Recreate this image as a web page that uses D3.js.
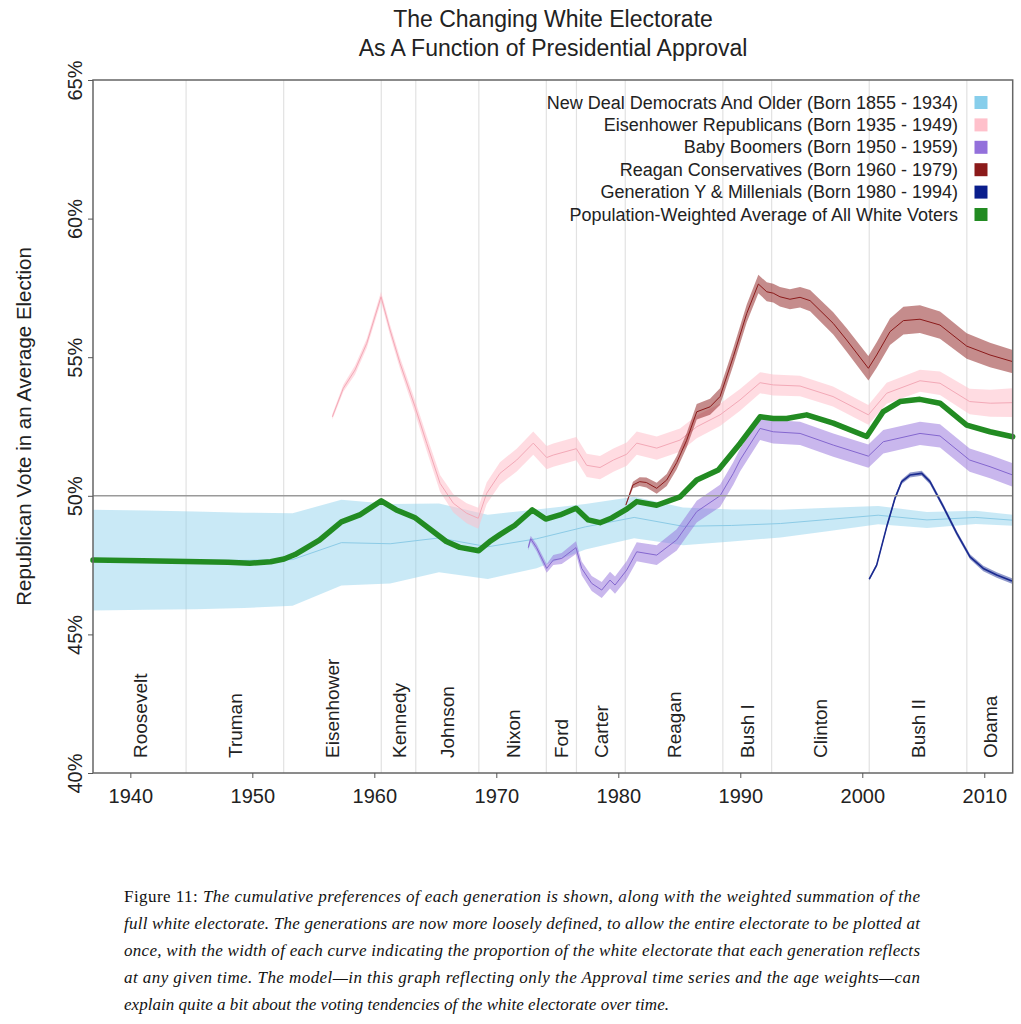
<!DOCTYPE html>
<html><head><meta charset="utf-8">
<script src="https://cdn.jsdelivr.net/npm/d3@7"></script>
<style>body{margin:0;background:#fff}svg{display:block}</style>
</head><body><svg id="c" width="1021" height="1024"></svg>
<script>
const titleLines = ["The Changing White Electorate", "As A Function of Presidential Approval"];
const yAxisTitle = "Republican Vote in an Average Election";
const yTicks = [40, 45, 50, 55, 60, 65];
const xTicks = [1940, 1950, 1960, 1970, 1980, 1990, 2000, 2010];
const termBoundaries = [1936.94, 1944.57, 1952.57, 1960.57, 1963.4, 1968.57, 1974.1, 1976.57, 1980.57, 1988.57, 1992.57, 2000.57, 2008.57, 2012.33];
const presidents = ["Roosevelt", "Truman", "Eisenhower", "Kennedy", "Johnson", "Nixon", "Ford", "Carter", "Reagan", "Bush I", "Clinton", "Bush II", "Obama"];
const legendLabels = [
  "New Deal Democrats And Older (Born 1855 - 1934)",
  "Eisenhower Republicans (Born 1935 - 1949)",
  "Baby Boomers (Born 1950 - 1959)",
  "Reagan Conservatives (Born 1960 - 1979)",
  "Generation Y & Millenials (Born 1980 - 1994)",
  "Population-Weighted Average of All White Voters"
];
const legendColors = ["#87CEEB", "#FFC0CB", "#9370DB", "#8B1A1A", "#0A1E8C", "#228B22"];

// [year, vote %, half-width of band]
const newDeal = [
  [1936.94, 47.68, 1.82], [1941.3, 47.68, 1.79], [1945.3, 47.67, 1.76], [1949.3, 47.67, 1.72],
  [1953.3, 47.70, 1.67], [1957.3, 48.31, 1.55], [1961.3, 48.27, 1.43], [1965.3, 48.48, 1.24],
  [1969.3, 48.16, 1.16], [1973.3, 48.45, 1.06], [1977.3, 48.88, 0.82], [1981.3, 49.22, 0.75],
  [1985.3, 48.90, 0.68], [1989.3, 48.93, 0.58], [1993.3, 49.00, 0.50], [1997.3, 49.15, 0.42],
  [2001.3, 49.30, 0.33], [2005.3, 49.13, 0.29], [2009.3, 49.22, 0.24], [2012.33, 49.12, 0.20]
];
const eisenhowerRep = [
  [1956.56, 52.85, 0.10], [1957.46, 53.88, 0.13], [1958.42, 54.54, 0.16], [1959.38, 55.50, 0.17],
  [1960.55, 57.18, 0.18], [1961.29, 55.98, 0.19], [1962.11, 54.78, 0.21], [1963.34, 53.21, 0.24],
  [1964.30, 51.89, 0.27], [1965.39, 50.45, 0.30], [1966.48, 49.73, 0.33], [1967.57, 49.37, 0.36],
  [1968.52, 49.19, 0.38], [1969.21, 50.09, 0.39], [1970.30, 50.81, 0.40], [1971.67, 51.29, 0.41],
  [1973.03, 51.90, 0.42], [1974.13, 51.38, 0.42], [1974.67, 51.47, 0.42], [1976.56, 51.70, 0.42],
  [1977.41, 51.10, 0.42], [1978.50, 51.02, 0.42], [1979.60, 51.29, 0.42], [1980.69, 51.50, 0.42],
  [1981.51, 51.90, 0.42], [1983.15, 51.72, 0.42], [1985.06, 52.01, 0.42], [1986.43, 52.49, 0.41],
  [1988.34, 52.92, 0.40], [1989.98, 53.46, 0.39], [1991.62, 54.08, 0.38], [1992.70, 54.00, 0.38],
  [1994.90, 53.96, 0.37], [1997.60, 53.58, 0.36], [2000.50, 52.92, 0.36], [2002.00, 53.70, 0.38],
  [2004.73, 54.15, 0.40], [2006.37, 54.06, 0.42], [2008.80, 53.40, 0.46], [2010.50, 53.34, 0.49],
  [2012.33, 53.36, 0.52]
];
const babyBoomers = [
  [1972.62, 48.13, 0.10], [1972.82, 48.45, 0.11], [1973.30, 48.13, 0.13], [1974.13, 47.38, 0.16],
  [1974.67, 47.68, 0.18], [1975.36, 47.74, 0.20], [1976.53, 48.13, 0.23], [1977.00, 47.38, 0.25],
  [1977.82, 46.84, 0.27], [1978.64, 46.60, 0.29], [1979.32, 46.96, 0.30], [1979.73, 46.78, 0.31],
  [1980.69, 47.32, 0.33], [1981.51, 47.98, 0.34], [1983.15, 47.86, 0.36], [1984.79, 48.41, 0.38],
  [1986.43, 49.43, 0.39], [1988.34, 50.00, 0.40], [1989.43, 50.81, 0.41], [1989.98, 51.29, 0.41],
  [1991.62, 52.43, 0.42], [1992.70, 52.31, 0.42], [1994.90, 52.25, 0.42], [1997.62, 51.83, 0.42],
  [2000.50, 51.43, 0.42], [2001.72, 51.95, 0.42], [2004.73, 52.25, 0.42], [2006.37, 52.16, 0.42],
  [2008.80, 51.29, 0.42], [2010.47, 51.05, 0.42], [2012.33, 50.75, 0.42]
];
const reaganCons = [
  [1980.62, 49.67, 0.04], [1981.20, 50.39, 0.12], [1981.75, 50.51, 0.16], [1982.30, 50.48, 0.18],
  [1983.15, 50.27, 0.20], [1983.97, 50.57, 0.22], [1984.79, 51.20, 0.24], [1985.60, 52.00, 0.26],
  [1986.43, 53.03, 0.28], [1987.52, 53.21, 0.29], [1988.34, 53.58, 0.30], [1989.43, 55.02, 0.31],
  [1990.53, 56.58, 0.32], [1991.48, 57.64, 0.33], [1992.17, 57.36, 0.34], [1992.70, 57.31, 0.34],
  [1993.25, 57.18, 0.35], [1994.07, 57.09, 0.36], [1994.90, 57.16, 0.37], [1995.72, 57.04, 0.38],
  [1997.62, 56.22, 0.40], [1998.72, 55.62, 0.42], [2000.50, 54.60, 0.44], [2001.18, 55.08, 0.46],
  [2002.27, 55.92, 0.48], [2003.37, 56.32, 0.50], [2004.73, 56.37, 0.50], [2006.37, 56.16, 0.49],
  [2008.56, 55.40, 0.46], [2010.47, 55.08, 0.44], [2012.33, 54.84, 0.42]
];
const genY = [
  [2000.57, 46.99, 0.05], [2001.18, 47.50, 0.06], [2002.00, 48.88, 0.07], [2002.68, 49.91, 0.08],
  [2003.23, 50.51, 0.08], [2003.91, 50.75, 0.09], [2004.87, 50.81, 0.09], [2005.55, 50.51, 0.09],
  [2006.64, 49.61, 0.09], [2007.74, 48.65, 0.09], [2008.83, 47.80, 0.09], [2009.92, 47.38, 0.10],
  [2011.02, 47.14, 0.10], [2012.27, 46.93, 0.10]
];
// [year, vote %]
const weightedAverage = [
  [1936.94, 47.68], [1941.0, 47.66], [1944.6, 47.63], [1948.0, 47.60], [1949.8, 47.57], [1951.5, 47.62],
  [1952.6, 47.72], [1953.5, 47.88], [1955.5, 48.40], [1957.3, 49.06], [1958.8, 49.31], [1960.57, 49.82],
  [1961.8, 49.49], [1963.3, 49.22], [1965.9, 48.35], [1967.0, 48.14], [1968.56, 48.02], [1969.46, 48.35],
  [1970.3, 48.60], [1971.5, 48.93], [1972.95, 49.49], [1974.05, 49.16], [1975.22, 49.31], [1976.53, 49.55],
  [1977.54, 49.13], [1978.5, 49.03], [1979.46, 49.20], [1980.69, 49.52], [1981.51, 49.79], [1983.15, 49.66],
  [1985.06, 49.96], [1986.43, 50.57], [1988.2, 50.93], [1989.98, 51.89], [1991.62, 52.85], [1992.7, 52.79],
  [1993.8, 52.79], [1995.44, 52.92], [1997.62, 52.62], [2000.36, 52.14], [2001.72, 53.04], [2003.09, 53.40],
  [2004.73, 53.48], [2006.37, 53.34], [2008.56, 52.55], [2010.47, 52.31], [2012.33, 52.13]
];
const captionLead = "Figure 11: ";
const captionLines = [
  "The cumulative preferences of each generation is shown, along with the weighted summation of the",
  "full white electorate. The generations are now more loosely defined, to allow the entire electorate to be plotted at",
  "once, with the width of each curve indicating the proportion of the white electorate that each generation reflects",
  "at any given time. The model\u2014in this graph reflecting only the Approval time series and the age weights\u2014can",
  "explain quite a bit about the voting tendencies of the white electorate over time."
];

const svg = d3.select("#c");
const SANS = "'Liberation Sans', Arial, Helvetica, sans-serif";
const L = 93, R = 1012.7, T = 80, B = 773;
const x = d3.scaleLinear().domain([termBoundaries[0], termBoundaries[termBoundaries.length - 1]]).range([L, R]);
const y = d3.scaleLinear().domain([40, 65]).range([B, T]);

// title
svg.selectAll("text.title").data(titleLines).join("text")
  .attr("x", 553).attr("y", (d, i) => 27 + i * 28.5)
  .attr("text-anchor", "middle").attr("font-family", SANS).attr("font-size", 23)
  .attr("fill", "#222").text(d => d);

// president term boundaries
svg.append("g").selectAll("line").data(termBoundaries.slice(1, -1)).join("line")
  .attr("x1", d => x(d)).attr("x2", d => x(d)).attr("y1", T).attr("y2", B)
  .attr("stroke", "#e2e2e2").attr("stroke-width", 1.2);

// bands
function band(data, color, fillOp, lineColor, lineW) {
  const g = svg.append("g");
  g.append("path").datum(data)
    .attr("d", d3.area().x(d => x(d[0])).y0(d => y(d[1] - d[2])).y1(d => y(d[1] + d[2])))
    .attr("fill", color).attr("fill-opacity", fillOp).attr("stroke", "none");
  g.append("path").datum(data)
    .attr("d", d3.line().x(d => x(d[0])).y(d => y(d[1])))
    .attr("fill", "none").attr("stroke", lineColor).attr("stroke-width", lineW)
    .attr("stroke-linejoin", "round");
}
band(newDeal, legendColors[0], 0.45, "#8ccbe6", 1);
band(eisenhowerRep, legendColors[1], 0.55, "#f3a9b7", 1);
band(babyBoomers, legendColors[2], 0.5, "#8467cf", 1);
band(reaganCons, legendColors[3], 0.5, "#8B1A1A", 1);
band(genY, legendColors[4], 0.45, "#1a2a90", 1.6);

// 50% line
svg.append("line").attr("x1", L).attr("x2", R).attr("y1", y(50)).attr("y2", y(50))
  .attr("stroke", "#9a9a9a").attr("stroke-width", 1.5);

// weighted average
svg.append("path").datum(weightedAverage)
  .attr("d", d3.line().x(d => x(d[0])).y(d => y(d[1])))
  .attr("fill", "none").attr("stroke", legendColors[5]).attr("stroke-width", 5.5)
  .attr("stroke-linejoin", "round").attr("stroke-linecap", "round");

// president labels
const mids = presidents.map((p, i) => [p, (termBoundaries[i] + termBoundaries[i + 1]) / 2]);
svg.append("g").selectAll("text").data(mids).join("text")
  .attr("transform", d => `translate(${x(d[1]) + 7},758) rotate(-90)`)
  .attr("font-family", SANS).attr("font-size", 19).attr("fill", "#222").text(d => d[0]);

// frame
svg.append("rect").attr("x", L).attr("y", T).attr("width", R - L).attr("height", B - T)
  .attr("fill", "none").attr("stroke", "#666").attr("stroke-width", 1.5);

// x axis
const xa = svg.append("g").attr("transform", `translate(0,${B})`)
  .call(d3.axisBottom(x).tickValues(xTicks).tickFormat(d3.format("d")).tickSize(5).tickPadding(11));
xa.select(".domain").remove();
xa.selectAll("line").attr("stroke", "#555");
xa.selectAll("text").attr("font-family", SANS).attr("font-size", 20).attr("fill", "#222");

// y axis
const ya = svg.append("g").attr("transform", `translate(${L},0)`)
  .call(d3.axisLeft(y).tickValues(yTicks).tickFormat(d => d + "%").tickSize(5));
ya.select(".domain").remove();
ya.selectAll("line").attr("stroke", "#555");
ya.selectAll("text").attr("x", null).attr("dy", null).attr("text-anchor", "middle")
  .attr("transform", "translate(-11,0) rotate(-90)")
  .attr("font-family", SANS).attr("font-size", 20).attr("fill", "#222");

svg.append("text").attr("transform", `translate(31,${(T + B) / 2}) rotate(-90)`)
  .attr("text-anchor", "middle").attr("font-family", SANS).attr("font-size", 20.5)
  .attr("fill", "#222").text(yAxisTitle);

// legend
const lg = svg.append("g");
legendLabels.forEach((lab, i) => {
  const cy = 102.5 + i * 22.4;
  lg.append("text").attr("x", 958).attr("y", cy + 6).attr("text-anchor", "end")
    .attr("font-family", SANS).attr("font-size", 18).attr("fill", "#222").text(lab);
  lg.append("rect").attr("x", 974.5).attr("y", cy - 6.5).attr("width", 13).attr("height", 13)
    .attr("fill", legendColors[i]);
});

// caption
const cap = svg.append("g").attr("font-family", "'Liberation Serif', 'Times New Roman', serif")
  .attr("font-size", 17).attr("fill", "#111");
captionLines.forEach((line, i) => {
  const t = cap.append("text").attr("x", 124).attr("y", 902 + i * 27)
    .attr("textLength", i < 4 ? 796 : 545).attr("lengthAdjust", "spacing");
  if (i === 0) t.append("tspan").text(captionLead);
  t.append("tspan").attr("font-style", "italic").text(line);
});
</script>
</body></html>
